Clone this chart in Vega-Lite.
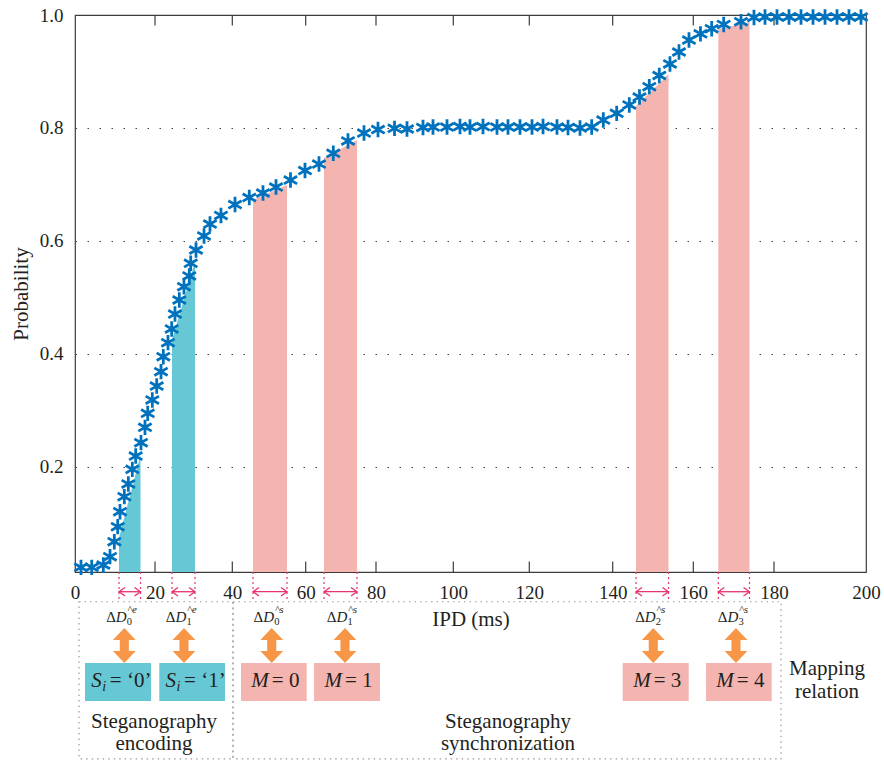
{
  "$schema": "https://vega.github.io/schema/vega-lite/v6.json",
  "width": 791,
  "height": 557,
  "autosize": {"type": "none"},
  "padding": {"left": 75, "top": 15, "right": 18, "bottom": 191},
  "background": "white",
  "config": {
    "view": {"stroke": "#3c3c3c", "strokeWidth": 1.2},
    "font": "Liberation Serif",
    "text": {"font": "Liberation Serif", "color": "#231F20"},
    "axis": {"labelFont": "Liberation Serif", "titleFont": "Liberation Serif", "labelColor": "#231F20", "titleColor": "#231F20", "titleFontWeight": "normal"}
  },
  "datasets": {
    "cdf": [
      {"ipd": 1.5, "p": 0.0223}, {"ipd": 4.18, "p": 0.0223}, {"ipd": 7.08, "p": 0.0264}, {"ipd": 8.75, "p": 0.0411},
      {"ipd": 9.83, "p": 0.0676}, {"ipd": 10.68, "p": 0.0942}, {"ipd": 11.25, "p": 0.1207}, {"ipd": 12.33, "p": 0.1473},
      {"ipd": 13.33, "p": 0.1698}, {"ipd": 14.33, "p": 0.1958}, {"ipd": 15.18, "p": 0.2193}, {"ipd": 16.5, "p": 0.2429},
      {"ipd": 17.5, "p": 0.2701}, {"ipd": 18.18, "p": 0.2949}, {"ipd": 19.33, "p": 0.3185}, {"ipd": 20.44, "p": 0.3432},
      {"ipd": 21.55, "p": 0.3686}, {"ipd": 22.15, "p": 0.3951}, {"ipd": 23.36, "p": 0.4199}, {"ipd": 24.32, "p": 0.4442},
      {"ipd": 25.17, "p": 0.4707}, {"ipd": 26.29, "p": 0.4955}, {"ipd": 27.5, "p": 0.519}, {"ipd": 28.87, "p": 0.538},
      {"ipd": 29.24, "p": 0.5605}, {"ipd": 30.61, "p": 0.584}, {"ipd": 32.68, "p": 0.6088}, {"ipd": 34.23, "p": 0.63},
      {"ipd": 37.07, "p": 0.6451}, {"ipd": 40.74, "p": 0.6645}, {"ipd": 44.63, "p": 0.6769}, {"ipd": 48.36, "p": 0.6849},
      {"ipd": 51.91, "p": 0.6955}, {"ipd": 55.86, "p": 0.7079}, {"ipd": 59.81, "p": 0.7247}, {"ipd": 63.78, "p": 0.7362},
      {"ipd": 67.85, "p": 0.7552}, {"ipd": 72.03, "p": 0.777}, {"ipd": 76.59, "p": 0.7911}, {"ipd": 80.52, "p": 0.7973},
      {"ipd": 84.79, "p": 0.7994}, {"ipd": 88.02, "p": 0.7982}, {"ipd": 92.16, "p": 0.8009}, {"ipd": 94.75, "p": 0.8017},
      {"ipd": 98.37, "p": 0.8017}, {"ipd": 101.76, "p": 0.8026}, {"ipd": 104.39, "p": 0.8017}, {"ipd": 107.82, "p": 0.8026},
      {"ipd": 111.5, "p": 0.8017}, {"ipd": 114.39, "p": 0.8017}, {"ipd": 117.55, "p": 0.8017}, {"ipd": 120.65, "p": 0.8017},
      {"ipd": 123.29, "p": 0.8026}, {"ipd": 126.64, "p": 0.8017}, {"ipd": 129.28, "p": 0.8009}, {"ipd": 132.16, "p": 0.8},
      {"ipd": 134.96, "p": 0.8017}, {"ipd": 137.75, "p": 0.8141}, {"ipd": 140.99, "p": 0.826}, {"ipd": 144.12, "p": 0.8407},
      {"ipd": 146.65, "p": 0.8548}, {"ipd": 149.08, "p": 0.8731}, {"ipd": 151.56, "p": 0.8929}, {"ipd": 154.21, "p": 0.9133},
      {"ipd": 156.45, "p": 0.9345}, {"ipd": 158.93, "p": 0.9557}, {"ipd": 161.78, "p": 0.9667}, {"ipd": 164.56, "p": 0.9757},
      {"ipd": 167.53, "p": 0.9832}, {"ipd": 171.82, "p": 0.9881}, {"ipd": 175.04, "p": 0.9956}, {"ipd": 177.77, "p": 0.9965},
      {"ipd": 180.65, "p": 0.9965}, {"ipd": 183.26, "p": 0.9965}, {"ipd": 185.87, "p": 0.9965}, {"ipd": 188.48, "p": 0.9965},
      {"ipd": 191.09, "p": 0.9965}, {"ipd": 193.7, "p": 0.9965}, {"ipd": 196.3, "p": 0.9965}, {"ipd": 198.91, "p": 0.9965}
    ],
    "bands": [
      {"band": "e0", "kind": "enc", "ipd": 11.0, "p": 0.0742}, {"band": "e0", "kind": "enc", "ipd": 16.38, "p": 0.2211},
      {"band": "e1", "kind": "enc", "ipd": 24.4, "p": 0.4247}, {"band": "e1", "kind": "enc", "ipd": 30.35, "p": 0.5633},
      {"band": "s0", "kind": "sync", "ipd": 45.64, "p": 0.6725}, {"band": "s0", "kind": "sync", "ipd": 54.9, "p": 0.6991},
      {"band": "s1", "kind": "sync", "ipd": 65.21, "p": 0.7469}, {"band": "s1", "kind": "sync", "ipd": 74.59, "p": 0.7787},
      {"band": "s2", "kind": "sync", "ipd": 145.78, "p": 0.8389}, {"band": "s2", "kind": "sync", "ipd": 153.85, "p": 0.8956},
      {"band": "s3", "kind": "sync", "ipd": 166.2, "p": 0.9752}, {"band": "s3", "kind": "sync", "ipd": 173.93, "p": 0.9876}
    ],
    "intervals": [
      {"band": "e0", "kind": "enc", "lo": 11.0, "hi": 16.38, "mid": 12.33, "sub": "0", "sup": "^e", "blo": 2.5, "bhi": 19.0, "bmid": 10.7, "sym": "S", "rest": "= ‘0’"},
      {"band": "e1", "kind": "enc", "lo": 24.4, "hi": 30.35, "mid": 27.5, "sub": "1", "sup": "^e", "blo": 21.11, "bhi": 38.11, "bmid": 29.6, "sym": "S", "rest": "= ‘1’"},
      {"band": "s0", "kind": "sync", "lo": 45.64, "hi": 54.9, "mid": 50.74, "sub": "0", "sup": "^s", "blo": 42.37, "bhi": 60.28, "bmid": 51.31, "sym": "M", "rest": "= 0"},
      {"band": "s1", "kind": "sync", "lo": 65.21, "hi": 74.59, "mid": 71.18, "sub": "1", "sup": "^s", "blo": 62.36, "bhi": 81.03, "bmid": 71.75, "sym": "M", "rest": "= 1"},
      {"band": "s2", "kind": "sync", "lo": 145.78, "hi": 153.85, "mid": 150.07, "sub": "2", "sup": "^s", "blo": 142.48, "bhi": 158.86, "bmid": 150.67, "sym": "M", "rest": "= 3"},
      {"band": "s3", "kind": "sync", "lo": 166.2, "hi": 173.93, "mid": 170.58, "sub": "3", "sup": "^s", "blo": 163.15, "bhi": 179.43, "bmid": 171.28, "sym": "M", "rest": "= 4"}
    ],
    "frames": [
      {"stage": "enc", "lo": 1.0, "hi": 40.19, "cx": 19.75, "label": "Steganography\nencoding"},
      {"stage": "sync", "lo": 40.19, "hi": 181.52, "cx": 114.39, "label": "Steganography\nsynchronization"}
    ],
    "notes": [{"x": 191.52, "label": "Mapping\nrelation"}],
    "ticks": [{"t": 20}, {"t": 40}, {"t": 60}, {"t": 80}, {"t": 100}, {"t": 120}, {"t": 140}, {"t": 160}, {"t": 180}]
  },
  "layer": [
    {
      "layer": [
        {
          "data": {"name": "bands"},
          "mark": {"type": "area", "opacity": 1, "clip": false},
          "encoding": {
            "x": {
              "field": "ipd", "type": "quantitative",
              "scale": {"domain": [0, 20, 40, 60, 80, 100, 120, 140, 160, 180, 200], "range": [0, 80, 157.3, 230.7, 301, 378.3, 454.3, 537.7, 618.3, 699, 791], "zero": false, "nice": false},
              "axis": {"title": "IPD (ms)", "values": [0, 20, 40, 60, 80, 100, 120, 140, 160, 180, 200], "format": "d", "labelFontSize": 19, "titleFontSize": 21, "labelPadding": 11, "ticks": false, "tickSize": 0, "domain": false, "grid": false, "labelFlush": false, "labelOverlap": false, "titlePadding": 6}
            },
            "y": {
              "field": "p", "type": "quantitative", "stack": null,
              "scale": {"domain": [0.014, 1.0], "zero": false, "nice": false},
              "axis": {"title": "Probability", "values": [0.2, 0.4, 0.6, 0.8, 1.0], "format": ".1f", "labelFontSize": 19, "titleFontSize": 21, "labelPadding": 12, "ticks": false, "tickSize": 0, "domain": false, "grid": true, "gridColor": "#444444", "gridDash": [1.5, 10.5], "gridWidth": 1.2, "labelFlush": false, "titlePadding": 8}
            },
            "y2": {"datum": 0.014},
            "detail": {"field": "band"},
            "color": {"field": "kind", "type": "nominal", "scale": {"domain": ["enc", "sync"], "range": ["#67C8D5", "#F4B4AF"]}, "legend": null}
          }
        },
        {
          "data": {"name": "ticks"},
          "mark": {"type": "rule", "color": "#3c3c3c", "strokeWidth": 1.2},
          "encoding": {
            "x": {"field": "t", "type": "quantitative"},
            "y": {"datum": 0.014},
            "y2": {"datum": 0.0326}
          }
        },
        {
          "data": {"name": "ticks"},
          "mark": {"type": "rule", "color": "#3c3c3c", "strokeWidth": 1.2},
          "encoding": {
            "x": {"field": "t", "type": "quantitative"},
            "y": {"datum": 1.0},
            "y2": {"datum": 0.9814}
          }
        },
        {
          "data": {"name": "cdf"},
          "mark": {"type": "point", "shape": "M0,-1L0,1M-0.866,-0.5L0.866,0.5M-0.866,0.5L0.866,-0.5", "size": 235, "filled": false, "strokeWidth": 2.8, "color": "#0072BD", "opacity": 1, "clip": false},
          "encoding": {
            "x": {"field": "ipd", "type": "quantitative"},
            "y": {"field": "p", "type": "quantitative"}
          }
        }
      ]
    },
    {
      "layer": [
        {
          "data": {"name": "frames"},
          "mark": {"type": "rect", "fillOpacity": 0, "stroke": "#9a9a9a", "strokeWidth": 1.2, "strokeDash": [1.5, 4]},
          "encoding": {
            "x": {"field": "lo", "type": "quantitative"},
            "x2": {"field": "hi"},
            "y": {"datum": 16, "type": "quantitative", "scale": {"domain": [0, 100], "range": [557, 743], "zero": false, "nice": false}, "axis": null},
            "y2": {"datum": 100.5}
          }
        },
        {
          "data": {"name": "frames"},
          "mark": {"type": "text", "align": "center", "baseline": "alphabetic", "fontSize": 21, "lineBreak": "\n", "lineHeight": 22},
          "encoding": {
            "x": {"field": "cx", "type": "quantitative"},
            "y": {"datum": 84, "type": "quantitative", "scale": {"domain": [0, 100], "range": [557, 743], "zero": false, "nice": false}, "axis": null},
            "text": {"field": "label"}
          }
        },
        {
          "data": {"name": "notes"},
          "mark": {"type": "text", "align": "center", "baseline": "alphabetic", "fontSize": 21, "lineBreak": "\n", "lineHeight": 23},
          "encoding": {
            "x": {"field": "x", "type": "quantitative"},
            "y": {"datum": 55.4, "type": "quantitative", "scale": {"domain": [0, 100], "range": [557, 743], "zero": false, "nice": false}, "axis": null},
            "text": {"field": "label"}
          }
        },
        {
          "data": {"name": "intervals"},
          "mark": {"type": "rule", "color": "#E8336B", "strokeWidth": 1.2, "strokeDash": [2, 3]},
          "encoding": {
            "x": {"field": "lo", "type": "quantitative"},
            "y": {"datum": 0, "type": "quantitative", "scale": {"domain": [0, 100], "range": [557, 743], "zero": false, "nice": false}, "axis": null},
            "y2": {"datum": 15}
          }
        },
        {
          "data": {"name": "intervals"},
          "mark": {"type": "rule", "color": "#E8336B", "strokeWidth": 1.2, "strokeDash": [2, 3]},
          "encoding": {
            "x": {"field": "hi", "type": "quantitative"},
            "y": {"datum": 0, "type": "quantitative", "scale": {"domain": [0, 100], "range": [557, 743], "zero": false, "nice": false}, "axis": null},
            "y2": {"datum": 15}
          }
        },
        {
          "data": {"name": "intervals"},
          "mark": {"type": "rule", "color": "#E8336B", "strokeWidth": 1.3},
          "encoding": {
            "x": {"field": "lo", "type": "quantitative"},
            "x2": {"field": "hi"},
            "y": {"datum": 10.6, "type": "quantitative", "scale": {"domain": [0, 100], "range": [557, 743], "zero": false, "nice": false}, "axis": null}
          }
        },
        {
          "data": {"name": "intervals"},
          "mark": {"type": "point", "shape": "M1,-0.7L0,0L1,0.7", "size": 144, "filled": false, "strokeWidth": 1.3, "color": "#E8336B", "opacity": 1},
          "encoding": {
            "x": {"field": "lo", "type": "quantitative"},
            "y": {"datum": 10.6, "type": "quantitative", "scale": {"domain": [0, 100], "range": [557, 743], "zero": false, "nice": false}, "axis": null}
          }
        },
        {
          "data": {"name": "intervals"},
          "mark": {"type": "point", "shape": "M-1,-0.7L0,0L-1,0.7", "size": 144, "filled": false, "strokeWidth": 1.3, "color": "#E8336B", "opacity": 1},
          "encoding": {
            "x": {"field": "hi", "type": "quantitative"},
            "y": {"datum": 10.6, "type": "quantitative", "scale": {"domain": [0, 100], "range": [557, 743], "zero": false, "nice": false}, "axis": null}
          }
        },
        {
          "data": {"name": "intervals"},
          "mark": {"type": "text", "text": "Δ", "align": "right", "baseline": "alphabetic", "fontSize": 15, "dx": -8.5},
          "encoding": {
            "x": {"field": "mid", "type": "quantitative"},
            "y": {"datum": 27, "type": "quantitative", "scale": {"domain": [0, 100], "range": [557, 743], "zero": false, "nice": false}, "axis": null}
          }
        },
        {
          "data": {"name": "intervals"},
          "mark": {"type": "text", "text": "D", "align": "left", "baseline": "alphabetic", "fontSize": 15, "fontStyle": "italic", "dx": -8.5},
          "encoding": {
            "x": {"field": "mid", "type": "quantitative"},
            "y": {"datum": 27, "type": "quantitative", "scale": {"domain": [0, 100], "range": [557, 743], "zero": false, "nice": false}, "axis": null}
          }
        },
        {
          "data": {"name": "intervals"},
          "mark": {"type": "text", "align": "left", "baseline": "alphabetic", "fontSize": 10.5, "dx": 2.5, "dy": 3},
          "encoding": {
            "x": {"field": "mid", "type": "quantitative"},
            "y": {"datum": 27, "type": "quantitative", "scale": {"domain": [0, 100], "range": [557, 743], "zero": false, "nice": false}, "axis": null},
            "text": {"field": "sub"}
          }
        },
        {
          "data": {"name": "intervals"},
          "mark": {"type": "text", "align": "left", "baseline": "alphabetic", "fontSize": 11, "fontStyle": "italic", "dx": 3, "dy": -9},
          "encoding": {
            "x": {"field": "mid", "type": "quantitative"},
            "y": {"datum": 27, "type": "quantitative", "scale": {"domain": [0, 100], "range": [557, 743], "zero": false, "nice": false}, "axis": null},
            "text": {"field": "sup"}
          }
        },
        {
          "data": {"name": "intervals"},
          "mark": {"type": "point", "shape": "M0,-1L0.65,-0.31L0.26,-0.31L0.26,0.31L0.65,0.31L0,1L-0.65,0.31L-0.26,0.31L-0.26,-0.31L-0.65,-0.31Z", "size": 1225, "filled": true, "color": "#F79646", "opacity": 1, "strokeWidth": 0},
          "encoding": {
            "x": {"field": "mid", "type": "quantitative"},
            "y": {"datum": 39.5, "type": "quantitative", "scale": {"domain": [0, 100], "range": [557, 743], "zero": false, "nice": false}, "axis": null}
          }
        },
        {
          "data": {"name": "intervals"},
          "mark": {"type": "rect", "opacity": 1},
          "encoding": {
            "x": {"field": "blo", "type": "quantitative"},
            "x2": {"field": "bhi"},
            "y": {"datum": 48.9, "type": "quantitative", "scale": {"domain": [0, 100], "range": [557, 743], "zero": false, "nice": false}, "axis": null},
            "y2": {"datum": 69.4},
            "color": {"field": "kind", "type": "nominal", "scale": {"domain": ["enc", "sync"], "range": ["#67C8D5", "#F4B4AF"]}, "legend": null}
          }
        },
        {
          "data": {"name": "intervals"},
          "transform": [{"filter": "datum.sym === 'S'"}],
          "layer": [
            {
              "mark": {"type": "text", "align": "right", "baseline": "alphabetic", "fontSize": 21, "fontStyle": "italic", "dx": -16},
              "encoding": {"text": {"field": "sym"}}
            },
            {
              "mark": {"type": "text", "text": "i", "align": "left", "baseline": "alphabetic", "fontSize": 14, "fontStyle": "italic", "dx": -15.5, "dy": 4}
            },
            {
              "mark": {"type": "text", "align": "left", "baseline": "alphabetic", "fontSize": 21, "dx": -8},
              "encoding": {"text": {"field": "rest"}}
            }
          ],
          "encoding": {
            "x": {"field": "bmid", "type": "quantitative"},
            "y": {"datum": 61.8, "type": "quantitative", "scale": {"domain": [0, 100], "range": [557, 743], "zero": false, "nice": false}, "axis": null}
          }
        },
        {
          "data": {"name": "intervals"},
          "transform": [{"filter": "datum.sym === 'M'"}],
          "layer": [
            {
              "mark": {"type": "text", "align": "right", "baseline": "alphabetic", "fontSize": 21, "fontStyle": "italic", "dx": -5},
              "encoding": {"text": {"field": "sym"}}
            },
            {
              "mark": {"type": "text", "align": "left", "baseline": "alphabetic", "fontSize": 21, "dx": -2},
              "encoding": {"text": {"field": "rest"}}
            }
          ],
          "encoding": {
            "x": {"field": "bmid", "type": "quantitative"},
            "y": {"datum": 61.8, "type": "quantitative", "scale": {"domain": [0, 100], "range": [557, 743], "zero": false, "nice": false}, "axis": null}
          }
        }
      ]
    }
  ],
  "resolve": {"scale": {"y": "independent"}}
}
